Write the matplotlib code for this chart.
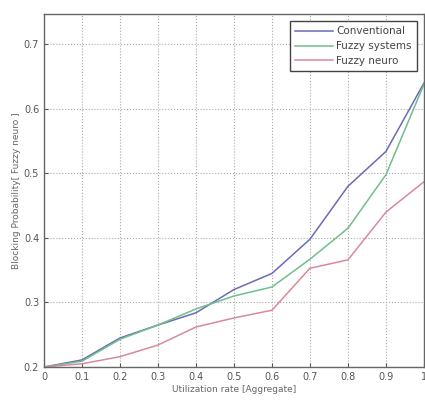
import matplotlib
matplotlib.use("Agg")
import matplotlib.pyplot as plt
import numpy as np

utilization = [0, 0.1, 0.2, 0.3, 0.4, 0.5, 0.6, 0.7, 0.8, 0.9, 1.0]
conventional = [0.200, 0.211, 0.245, 0.265, 0.284, 0.320, 0.345, 0.398, 0.480, 0.534, 0.640]
fuzzy_systems = [0.200, 0.209, 0.243, 0.265, 0.290, 0.310, 0.324, 0.367, 0.415, 0.498, 0.638]
fuzzy_neuro = [0.200, 0.205, 0.216, 0.234, 0.262, 0.276, 0.288, 0.353, 0.366, 0.440, 0.487]

x_ticks = [0, 0.1, 0.2, 0.3, 0.4, 0.5, 0.6, 0.7, 0.8, 0.9, 1]
x_labels = ["0", "0.1", "0.2", "0.3", "0.4", "0.5", "0.6", "0.7", "0.8", "0.9", "1"]
y_ticks = [0.2, 0.3, 0.4, 0.5, 0.6, 0.7]

fig = plt.figure(figsize=(4.25, 4.03), dpi=100)
ax = fig.add_axes([0.1035, 0.0893, 0.894, 0.876])

ax.plot(utilization, conventional, color="#6a6ab8", lw=1.1, label="Conventional")
ax.plot(utilization, fuzzy_systems, color="#6fbf8a", lw=1.1, label="Fuzzy systems")
ax.plot(utilization, fuzzy_neuro, color="#d98a9a", lw=1.1, label="Fuzzy neuro")

ax.set_xlim(0, 1)
ax.set_ylim(0.2, 0.747)
ax.set_xticks(x_ticks)
ax.set_xticklabels(x_labels)
ax.set_yticks(y_ticks)
ax.tick_params(direction="in", labelsize=7, colors="#555555", length=3)
ax.grid(True, linestyle=":", color="#aaaaaa", lw=0.8)
for s in ax.spines.values():
    s.set_color("#666666")
    s.set_linewidth(1.0)

ax.set_xlabel("Utilization rate [Aggregate]", fontsize=6.5, color="#666666", labelpad=2)
ax.set_ylabel("Blocking Probability[ Fuzzy neuro ]", fontsize=6.5, color="#666666", labelpad=2)

leg = ax.legend(loc="upper right", fontsize=7.5, fancybox=False, framealpha=1,
                edgecolor="#444444", handlelength=3.6, borderaxespad=0.7,
                labelspacing=0.45, borderpad=0.5, handletextpad=0.3)
leg.get_frame().set_linewidth(1.0)
for t in leg.get_texts():
    t.set_color("#444444")

fig.savefig("out.png", dpi=100)
